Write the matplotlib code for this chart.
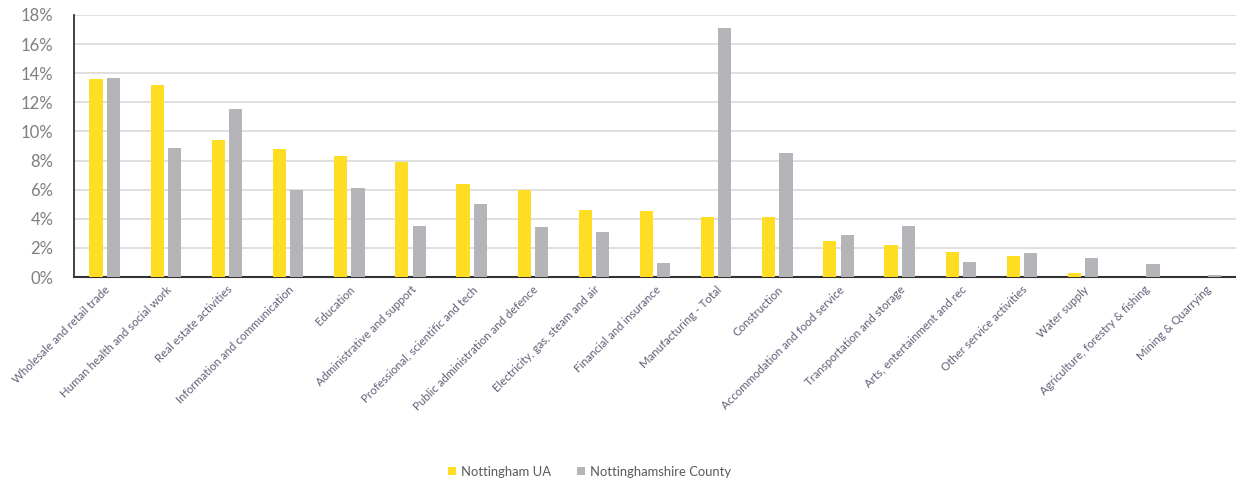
import matplotlib
matplotlib.use("Agg")
import matplotlib.pyplot as plt
import numpy as np
from matplotlib.ticker import FuncFormatter

categories = [
    "Wholesale and retail trade", "Human health and social work", "Real estate activities",
    "Information and communication", "Education", "Administrative and support",
    "Professional, scientific and tech", "Public administration and defence",
    "Electricity, gas, steam and air", "Financial and insurance", "Manufacturing - Total",
    "Construction", "Accommodation and food service", "Transportation and storage",
    "Arts, entertainment and rec", "Other service activities", "Water supply",
    "Agriculture, forestry & fishing", "Mining & Quarrying",
]
nottingham_ua = [13.6, 13.2, 9.4, 8.8, 8.3, 7.9, 6.4, 6.0, 4.6, 4.5, 4.1, 4.1, 2.5, 2.2, 1.7, 1.45, 0.3, 0.0, 0.0]
notts_county = [13.7, 8.85, 11.55, 5.95, 6.1, 3.5, 5.0, 3.45, 3.1, 0.95, 17.1, 8.5, 2.9, 3.5, 1.0, 1.65, 1.3, 0.87, 0.16]
series_names = ["Nottingham UA", "Nottinghamshire County"]
y_ticks = [0, 2, 4, 6, 8, 10, 12, 14, 16, 18]

YELLOW = "#FFDD22"
GRAY = "#B5B5B9"

plt.rcParams['font.family'] = ['Lato', 'DejaVu Sans']

fig = plt.figure(figsize=(12.36, 4.83), dpi=100)
ax = fig.add_axes([0.06, 0.4265, 0.94, 0.5425])

x = np.arange(len(categories))
w = 0.215
off = 0.142
ax.bar(x - off, nottingham_ua, width=w, color=YELLOW, label=series_names[0], zorder=3)
ax.bar(x + off, notts_county, width=w, color=GRAY, label=series_names[1], zorder=3)

ax.set_xlim(-0.5, len(categories) - 0.5)
ax.set_ylim(0, 18)
ax.set_yticks(y_ticks)
ax.yaxis.set_major_formatter(FuncFormatter(lambda v, p: f"{int(v)}%"))
ax.grid(axis='y', color='#D9D9D9', linewidth=1.2, zorder=0)
ax.set_axisbelow(True)

for s in ['top', 'right']:
    ax.spines[s].set_visible(False)
ax.spines['left'].set_color('#333333')
ax.spines['bottom'].set_color('#333333')
ax.spines['left'].set_linewidth(1.3)
ax.spines['bottom'].set_linewidth(1.5)

ax.tick_params(axis='y', length=0, labelsize=12, labelcolor='#7F7F7F', pad=15)
ax.tick_params(axis='x', length=0, pad=5)
ax.set_xticks(x)
ax.set_xticklabels(categories, rotation=45, ha='right', rotation_mode='anchor',
                   fontsize=8.3, color='#60607A')

handles, labels = ax.get_legend_handles_labels()
fig.legend(handles, labels, loc='center', bbox_to_anchor=(0.477, 0.023), ncol=2,
           frameon=False, fontsize=9.4, handlelength=0.6, handleheight=0.6,
           columnspacing=2.0, handletextpad=0.4, labelcolor='#595959')

fig.savefig("out.png", dpi=100)
